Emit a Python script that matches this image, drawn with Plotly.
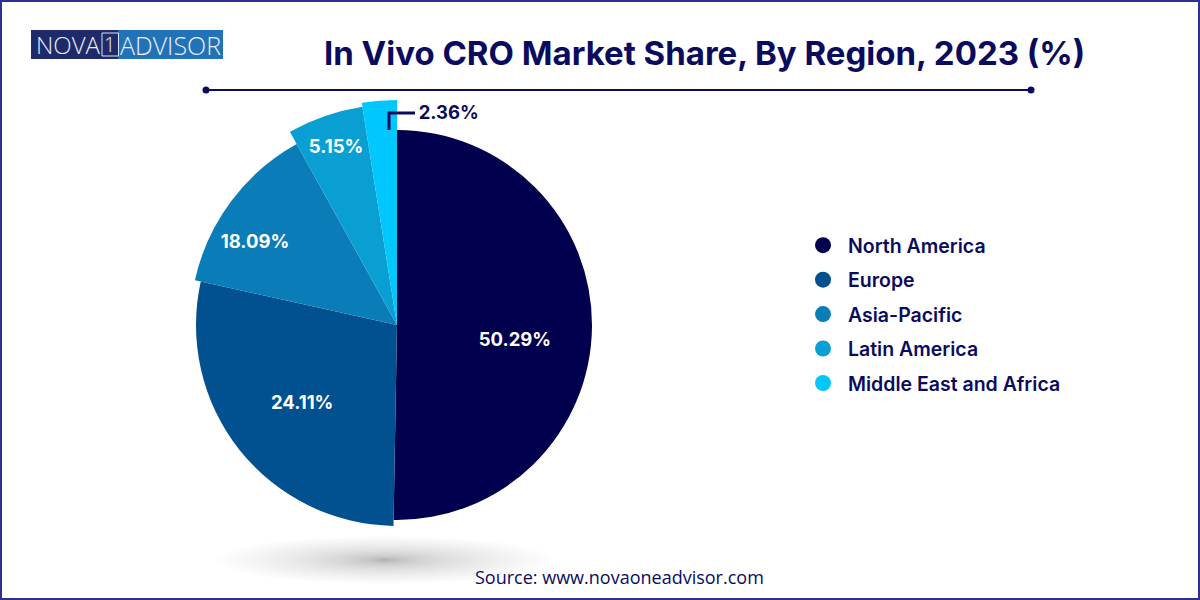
import plotly.graph_objects as go

regions = ["North America", "Europe", "Asia-Pacific", "Latin America", "Middle East and Africa"]
shares = [50.29, 24.11, 18.09, 5.15, 2.36]
share_labels = ["50.29%", "24.11%", "18.09%", "5.15%", "2.36%"]
colors = ["#00004F", "#01508F", "#0A7DB8", "#0A9FD2", "#00C8FF"]
# outer radius of each wedge in pixels (the wedges step outward)
radii = [195, 201, 207, 221, 225]
# wedge edges (degrees clockwise from 12 o'clock)
edges = [0, 181, 282.5, 331, 351, 360]
label_r = [119, 124, 164, 187, 217]
label_theta = [97.7, 229.9, 300, 341, 13.8]

W, H = 1200, 600
CX, CY, RMAX = 397, 325, 240
NAVY = "#0B0B5E"

centers = [(a + b) / 2 for a, b in zip(edges[:-1], edges[1:])]
widths = [b - a for a, b in zip(edges[:-1], edges[1:])]

fig = go.Figure()
fig.add_trace(go.Barpolar(r=radii, theta=centers, width=widths, marker=dict(color=colors, line=dict(width=0)),
                          showlegend=False, hoverinfo="text", text=[f"{a}: {b}%" for a, b in zip(regions, shares)]))
fig.add_trace(go.Scatterpolar(r=label_r[:4], theta=label_theta[:4], mode="text", text=share_labels[:4],
                              textfont=dict(family="Inter", size=18.5, color="white", weight=700),
                              showlegend=False, hoverinfo="skip"))
fig.add_trace(go.Scatterpolar(r=label_r[4:], theta=label_theta[4:], mode="text", text=share_labels[4:],
                              textfont=dict(family="Inter", size=18.5, color=NAVY, weight=700),
                              showlegend=False, hoverinfo="skip"))
for name, c in zip(regions, colors):
    fig.add_trace(go.Scatterpolar(r=[None], theta=[None], mode="markers", name=name, legendgroup=name,
                                  marker=dict(color=c, size=16, symbol="circle")))


def px(x):
    return x / W


def py(y):
    return 1 - y / H


shapes = [dict(type="rect", xref="paper", yref="paper", x0=0, x1=1, y0=0, y1=1, line=dict(color="#2E3192", width=4), fillcolor="rgba(0,0,0,0)")]
# title rule
shapes.append(dict(type="line", xref="paper", yref="paper", x0=px(206), x1=px(1031), y0=py(90), y1=py(90), line=dict(color=NAVY, width=2)))
for x in (206, 1031):
    shapes.append(dict(type="circle", xref="paper", yref="paper", x0=px(x - 3.5), x1=px(x + 3.5), y0=py(93.5), y1=py(86.5), fillcolor=NAVY, line=dict(width=0)))
# logo
shapes.append(dict(type="rect", xref="paper", yref="paper", x0=px(31), x1=px(118), y0=py(59), y1=py(30), fillcolor="#1F2A6B", line=dict(width=0)))
shapes.append(dict(type="rect", xref="paper", yref="paper", x0=px(118), x1=px(223), y0=py(59), y1=py(30), fillcolor="#2272B8", line=dict(width=0)))
shapes.append(dict(type="rect", xref="paper", yref="paper", x0=px(102), x1=px(118.5), y0=py(56), y1=py(33), fillcolor="rgba(0,0,0,0)", line=dict(color="#D8E4F4", width=1)))
# soft shadow under the pie
N = 40
for i in range(N):
    t = i / (N - 1)
    rx = 165 * (1 - t) ** 2 + 4
    ry = 23 * (1 - t) ** 2 + 1
    shapes.append(dict(type="circle", xref="paper", yref="paper", x0=px(385 - rx), x1=px(385 + rx), y0=py(560 + ry), y1=py(560 - ry),
                       fillcolor="rgba(110,110,110,0.014)", line=dict(width=0), layer="below"))
# leader for the small slice
shapes.append(dict(type="path", xref="paper", yref="paper", path=f"M {px(389)} {py(130)} L {px(389)} {py(113)} L {px(415)} {py(113)}",
                   line=dict(color=NAVY, width=3)))

annotations = [
    dict(text="In Vivo CRO Market Share, By Region, 2023 (%)", x=px(704), y=py(53), xanchor="center", yanchor="middle", showarrow=False,
         font=dict(family="Inter", size=33, color=NAVY, weight=700)),
    dict(text="Source: www.novaoneadvisor.com", x=px(619), y=py(577), xanchor="center", yanchor="middle", showarrow=False,
         font=dict(family="Open Sans", size=18, color=NAVY)),
    dict(text="NOVA", x=px(34), y=py(45), xanchor="left", yanchor="middle", showarrow=False, font=dict(family="Open Sans", size=24, color="#E8EEF8", weight=300)),
    dict(text="1", x=px(110), y=py(45), xanchor="center", yanchor="middle", showarrow=False, font=dict(family="Open Sans", size=20, color="#E8EEF8", weight=300)),
    dict(text="ADVISOR", x=px(118), y=py(45), xanchor="left", yanchor="middle", showarrow=False, font=dict(family="Open Sans", size=25, color="#E8EEF8", weight=300)),
]
for a in annotations:
    a.update(xref="paper", yref="paper")

fig.update_layout(
    width=W, height=H, autosize=False,
    margin=dict(l=0, r=0, t=0, b=0),
    paper_bgcolor="white", plot_bgcolor="white",
    polar=dict(
        domain=dict(x=[px(CX - RMAX), px(CX + RMAX)], y=[py(CY + RMAX), py(CY - RMAX)]),
        bgcolor="rgba(0,0,0,0)",
        radialaxis=dict(visible=False, range=[0, RMAX]),
        angularaxis=dict(visible=False, rotation=90, direction="clockwise"),
        bargap=0,
    ),
    legend=dict(x=px(798), y=py(226), xanchor="left", yanchor="top", tracegroupgap=6.1, itemwidth=40, itemclick=False, itemdoubleclick=False,
                font=dict(family="Inter", size=19.5, color=NAVY, weight=600), bgcolor="rgba(0,0,0,0)"),
    shapes=shapes, annotations=annotations,
)
fig.write_html("out.html", config=dict(displayModeBar=False), post_script="document.body.style.margin='0';document.body.style.overflow='hidden';")
